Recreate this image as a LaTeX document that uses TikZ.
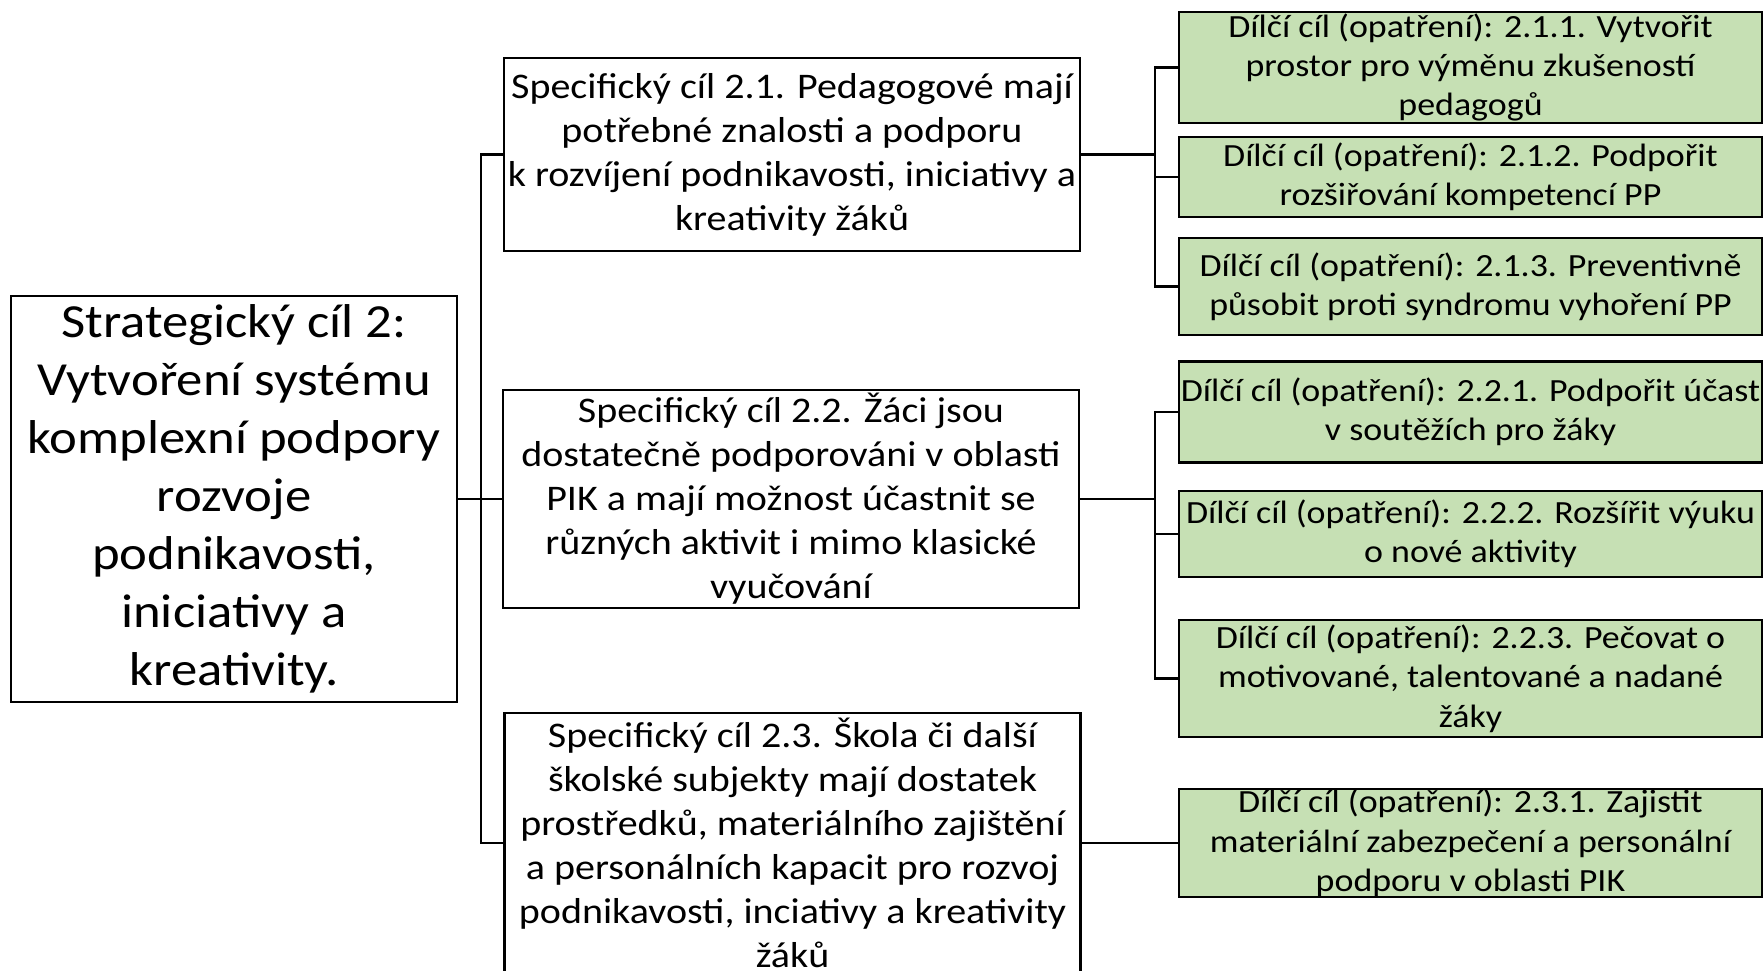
\documentclass[tikz,border=0pt]{standalone}
\usepackage{fontspec}
\setmainfont{Carlito}[FakeStretch=1.11]
\usetikzlibrary{positioning}
\usetikzlibrary{calc}

\definecolor{goalgreen}{HTML}{C6E0B4}

\begin{document}
\begin{tikzpicture}[x=0.01cm, y=-0.01cm,
  box/.style={draw=black, line width=0.7pt, inner sep=0pt, align=center},
  mainbox/.style={box, minimum width=4.46cm, minimum height=4.06cm, font=\fontsize{13.5}{16.5}\selectfont},
  specbox/.style={box, minimum width=5.76cm, font=\fontsize{10.25}{12.5}\selectfont},
  goalbox/.style={box, fill=goalgreen, minimum width=5.83cm, font=\fontsize{9.2}{11.2}\selectfont},
  link/.style={line width=0.7pt}]

	\useasboundingbox (0,0) rectangle (1764,971);
	\clip (0,0) rectangle (1764,971);

	\def\gx{1470.5};

	% strategic goal
	\node[mainbox] (main) at (234,499) {Strategický cíl 2:\\Vytvoření systému\\komplexní podpory\\rozvoje\\podnikavosti,\\iniciativy a\\kreativity.};

	% specific goals
	\node[specbox, minimum height=1.93cm] (s21) at (792,154.5) {Specifický cíl 2.1. Pedagogové mají\\potřebné znalosti a podporu\\k rozvíjení podnikavosti, iniciativy a\\kreativity žáků};
	\node[specbox, minimum height=2.18cm] (s22) at (791,499) {Specifický cíl 2.2. Žáci jsou\\dostatečně podporováni v oblasti\\PIK a mají možnost účastnit se\\různých aktivit i mimo klasické\\vyučování};
	\node[specbox, minimum height=2.60cm] (s23) at (792.5,843) {Specifický cíl 2.3. Škola či další\\školské subjekty mají dostatek\\prostředků, materiálního zajištění\\a personálních kapacit pro rozvoj\\podnikavosti, inciativy a kreativity\\žáků};

	% partial goals
	\foreach \name/\y/\h/\txt in {
		g211/67.5/1.11/{Dílčí cíl (opatření): 2.1.1. Vytvořit\\prostor pro výměnu zkušeností\\pedagogů},
		g212/177/0.80/{Dílčí cíl (opatření): 2.1.2. Podpořit\\rozšiřování kompetencí PP},
		g213/286.5/0.97/{Dílčí cíl (opatření): 2.1.3. Preventivně\\působit proti syndromu vyhoření PP},
		g221/412/1.01/{Dílčí cíl (opatření): 2.2.1. Podpořit účast\\v soutěžích pro žáky},
		g222/534/0.86/{Dílčí cíl (opatření): 2.2.2. Rozšířit výuku\\o nové aktivity},
		g223/678.5/1.17/{Dílčí cíl (opatření): 2.2.3. Pečovat o\\motivované, talentované a nadané\\žáky},
		g231/843/1.08/{Dílčí cíl (opatření): 2.3.1. Zajistit\\materiální zabezpečení a personální\\podporu v oblasti PIK}} {
		\node[goalbox, minimum height=\h cm] (\name) at (\gx,\y) {\txt};
	}

	% bus points
	\coordinate (b0) at (481,499);
	\coordinate (b21) at (1155,154.5);
	\coordinate (b22) at (1155,499);

	\draw[link] (main.east) -- (b0);
	\draw[link] (b0) |- (s21.west);
	\draw[link] (b0) |- (s22.west);
	\draw[link] (b0) |- (s23.west);

	\draw[link] (s21.east) -- (b21);
	\foreach \g in {g211,g212,g213}
		\draw[link] (b21) |- (\g.west);

	\draw[link] (s22.east) -- (b22);
	\foreach \g in {g221,g222,g223}
		\draw[link] (b22) |- (\g.west);

	\draw[link] (s23.east) -- (g231.west);

\end{tikzpicture}
\end{document}
